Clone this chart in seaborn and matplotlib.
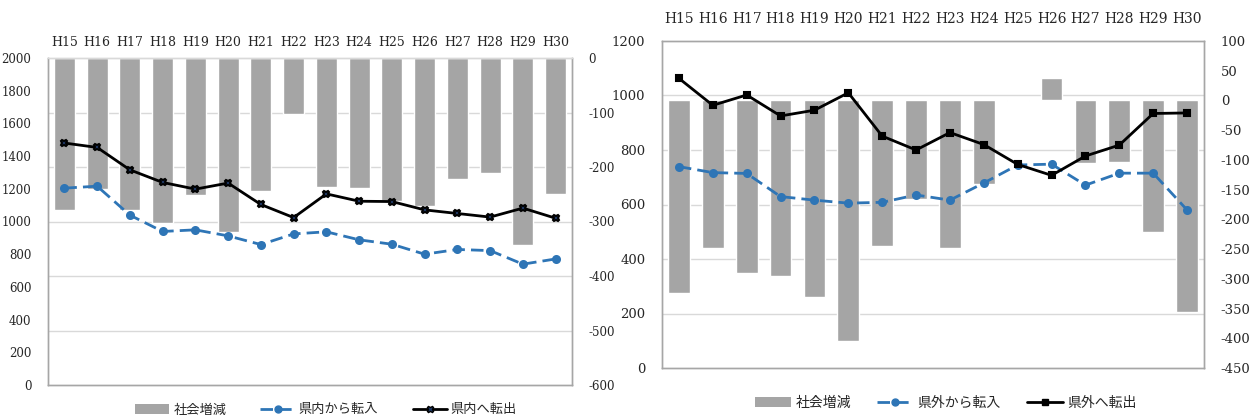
import matplotlib
matplotlib.use("Agg")
import matplotlib.pyplot as plt
from matplotlib.patches import Patch
from matplotlib.lines import Line2D
import seaborn as sns

years = ["H15", "H16", "H17", "H18", "H19", "H20", "H21", "H22",
         "H23", "H24", "H25", "H26", "H27", "H28", "H29", "H30"]

# 県内移動
pref_social = [-279, -240, -278, -303, -251, -320, -244, -102,
               -236, -238, -262, -272, -222, -211, -343, -250]
pref_in = [1204, 1216, 1039, 939, 949, 912, 859, 924,
           937, 888, 861, 800, 829, 822, 739, 771]
pref_out = [1480, 1453, 1316, 1239, 1198, 1235, 1104, 1024,
            1169, 1124, 1122, 1071, 1049, 1027, 1082, 1020]

# 県外移動
ext_social = [-324, -248, -290, -296, -330, -405, -245, -166,
              -248, -141, -1, 38, -106, -103, -221, -356]
ext_in = [739, 717, 714, 629, 616, 605, 608, 635,
          616, 679, 745, 748, 671, 715, 715, 580]
ext_out = [1063, 964, 1002, 925, 946, 1010, 851, 800,
           864, 820, 747, 707, 778, 818, 934, 936]

label_social = "社会増減"
labels_pref = ["県内から転入", "県内へ転出"]
labels_ext = ["県外から転入", "県外へ転出"]

sns.set_theme(style="white")
plt.rcParams["font.family"] = ["DejaVu Serif", "Noto Sans CJK JP"]
plt.rcParams["axes.unicode_minus"] = False

BAR = "#A5A5A5"
BLUE = "#2E75B6"
SPINE = "#A6A6A6"
GRID = "#D9D9D9"
DASH = (4.5, 2.2)

W, H = 1255, 420
fig = plt.figure(figsize=(W / 100, H / 100), dpi=100)


def px_rect(x0, y0, x1, y1):
    return [x0 / W, 1 - y1 / H, (x1 - x0) / W, (y1 - y0) / H]


def panel(rect, bars, inflow, outflow, bar_lim, bar_ticks, line_lim, line_ticks,
          out_marker, out_mfc, fs, top_pad, grid_vals):
    ax = fig.add_axes(rect)          # bars, right-hand scale
    ax2 = ax.twinx()                 # lines, left-hand scale

    sns.barplot(x=years, y=bars, color=BAR, saturation=1, width=0.64, ax=ax, zorder=2)
    ax.set_ylim(*bar_lim)
    ax.set_yticks(bar_ticks)
    ax.yaxis.tick_right()
    ax.set_axisbelow(True)
    ax.xaxis.tick_top()
    ax.tick_params(axis="x", length=0, pad=top_pad, labelsize=fs + 0.5)
    ax.tick_params(axis="y", length=0, pad=12, labelsize=fs)
    ax.set_xlabel("")
    ax.set_ylabel("")
    for v in grid_vals:
        ax.axhline(v, color=GRID, lw=1.0, zorder=0)

    sns.pointplot(x=years, y=inflow, color=BLUE, marker="o", markersize=5,
                  linewidth=2.0, linestyle="--", errorbar=None, ax=ax2)
    sns.pointplot(x=years, y=outflow, color="black", marker=out_marker, markersize=5,
                  linewidth=2.0, errorbar=None, ax=ax2)
    ax2.lines[0].set_dashes(DASH)
    ax2.lines[-1].set_markerfacecolor(out_mfc)
    ax2.lines[-1].set_markeredgecolor("black")
    ax2.set_ylim(*line_lim)
    ax2.set_yticks(line_ticks)
    ax2.yaxis.tick_left()
    ax2.tick_params(axis="y", length=0, pad=12, labelsize=fs)
    ax2.set_ylabel("")
    ax2.set_xlim(-0.5, len(years) - 0.5)
    ax.set_xlim(-0.5, len(years) - 0.5)

    for a in (ax, ax2):
        for s in a.spines.values():
            s.set_color(SPINE)
            s.set_linewidth(1.0)
    return ax, ax2


# 県内
axl, axl2 = panel(px_rect(48, 58, 572, 385), pref_social, pref_in, pref_out,
                  (-600, 0), list(range(0, -700, -100)),
                  (0, 2000), list(range(0, 2200, 200)),
                  "X", "#1F3864", 8.5, 6.5, list(range(-100, -600, -100)))
axl.spines["top"].set_color(GRID)
axl2.spines["top"].set_color(GRID)

# 県外 (grid follows the left scale 200..1000)
ext_grid = [-450 + v / 1200 * 550 for v in range(200, 1200, 200)]
panel(px_rect(662, 41, 1204, 368), ext_social, ext_in, ext_out,
      (-450, 100), list(range(100, -500, -50)),
      (0, 1200), list(range(0, 1400, 200)),
      "s", "black", 9.5, 11, ext_grid)


def legend(center, names, out_marker, out_mfc, fs, spacing):
    handles = [
        Patch(facecolor=BAR, edgecolor="none"),
        Line2D([], [], color=BLUE, lw=2.0, dashes=DASH, marker="o", markersize=5),
        Line2D([], [], color="black", lw=2.0, marker=out_marker, markersize=5,
               markerfacecolor=out_mfc, markeredgecolor="black"),
    ]
    fig.legend(handles, [label_social] + names, loc="center",
               bbox_to_anchor=(center[0] / W, 1 - center[1] / H), ncol=3,
               frameon=False, handlelength=2.6, handleheight=0.7,
               handletextpad=0.3, columnspacing=spacing,
               prop={"family": ["Noto Sans CJK JP"], "size": fs})


legend((326, 410), labels_pref, "X", "#1F3864", 9.5, 2.6)
legend((946, 403), labels_ext, "s", "black", 10, 1.9)

fig.savefig("out.png", dpi=100)
